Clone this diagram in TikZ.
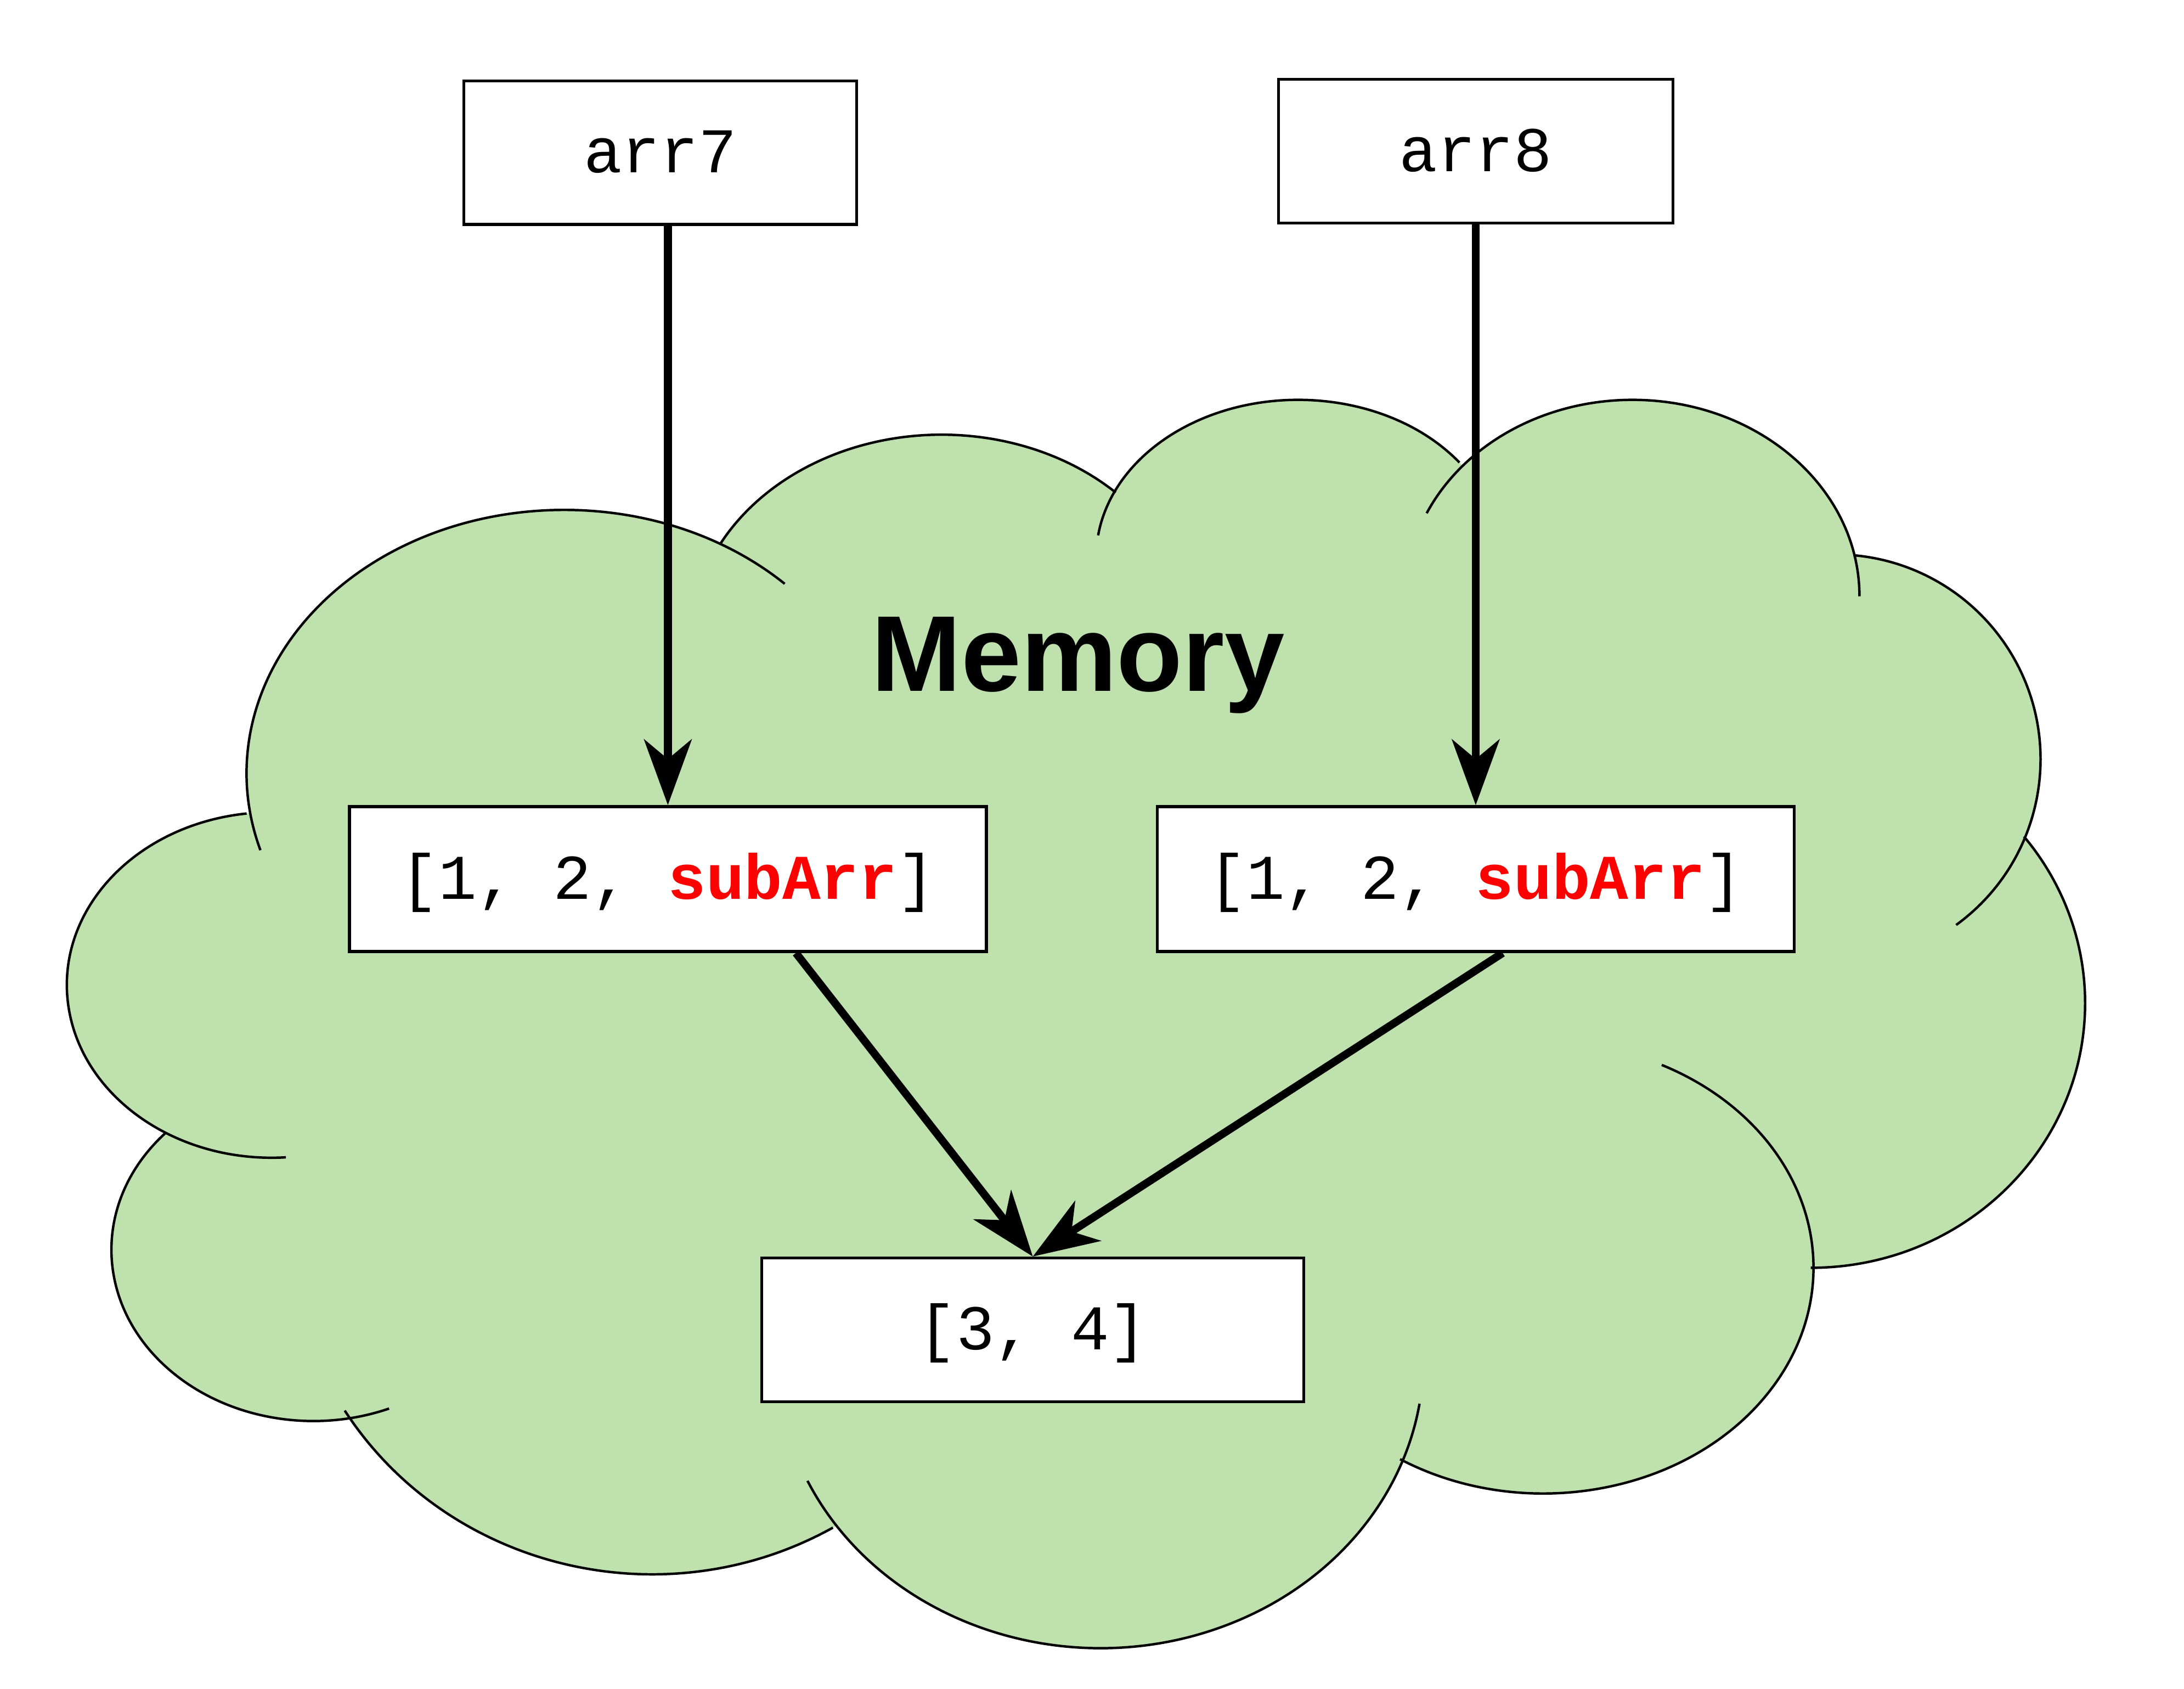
\documentclass[tikz,border=0pt]{standalone}
\usepackage{fontspec}
\setmainfont{Liberation Sans}
\newfontfamily\codefont{Liberation Mono}
\usetikzlibrary{arrows.meta}
\definecolor{memgreen}{RGB}{191,225,173}
\definecolor{keyred}{RGB}{255,0,0}
\def\bumps{195/707/147/124/263/86, 225/897/145/123/223/68, 468/880/260/250/148/60,
  790/975/232/208/155/9, 1108/910/194/162/122/-64, 1300/720/197/190/90/-39,
  1318/545/147/147/54/-85, 1172/428/163/141/0/-155, 932/400/145/113/-37/-172,
  676/460/180/148/-46/-152, 405/555/228/189/-46/-197}
\begin{document}
\begin{tikzpicture}[x=0.01cm, y=-0.01cm,
    cloudline/.style={draw=black, line width=0.5pt},
    varbox/.style={draw=black, fill=white, line width=0.6pt, inner sep=0pt,
      minimum height=1.03cm, text height=8.2pt, text depth=0pt,
      font=\codefont\fontsize{13}{15}\selectfont}]
  \useasboundingbox (0,0) rectangle (1568,1212);
  \foreach \cx/\cy/\rx/\ry/\s/\e in \bumps
    \fill[memgreen] (\cx,\cy) ellipse [x radius=\rx, y radius=\ry];
  \fill[memgreen] (195,707) -- (225,897) -- (468,880) -- (790,975) -- (1108,910) -- (1300,720)
    -- (1318,545) -- (1172,428) -- (932,400) -- (676,460) -- (405,555) -- cycle;
  \foreach \cx/\cy/\rx/\ry/\s/\e [evaluate=\s as \sx using \cx+\rx*cos(\s),
      evaluate=\s as \sy using \cy+\ry*sin(\s)] in \bumps
    \draw[cloudline] (\sx,\sy) arc [start angle=\s, end angle=\e, x radius=\rx, y radius=\ry];
  \node[font=\bfseries\fontsize{22}{26}\selectfont, anchor=base] (memlabel) at (774,496) {Memory};
  \begin{scope}[every node/.style={varbox}]
    \node[minimum width=2.82cm] (arr7) at (474,109.5) {arr7};
    \node[minimum width=2.83cm] (arr8) at (1059.5,108.5) {arr8};
    \node[minimum width=4.57cm, minimum height=1.04cm] (outer7) at (479.5,631) {[1, 2, \textcolor{keyred}{\bfseries subArr}]};
    \node[minimum width=4.57cm, minimum height=1.04cm] (outer8) at (1059.5,631) {[1, 2, \textcolor{keyred}{\bfseries subArr}]};
    \node[minimum width=3.89cm] (inner) at (741.5,954.5) {[3, 4]};
  \end{scope}
  \begin{scope}[every edge/.style={draw=black, line width=1.6pt, -{Stealth[length=13.4pt, width=9.7pt, inset=4pt]}}]
    \path (arr7.south -| outer7.north) edge (outer7.north);
    \path (arr8) edge (outer8);
    \path (outer7.-30) edge (inner.north);
    \path (outer8.-70) edge (inner.north);
  \end{scope}
\end{tikzpicture}
\end{document}
